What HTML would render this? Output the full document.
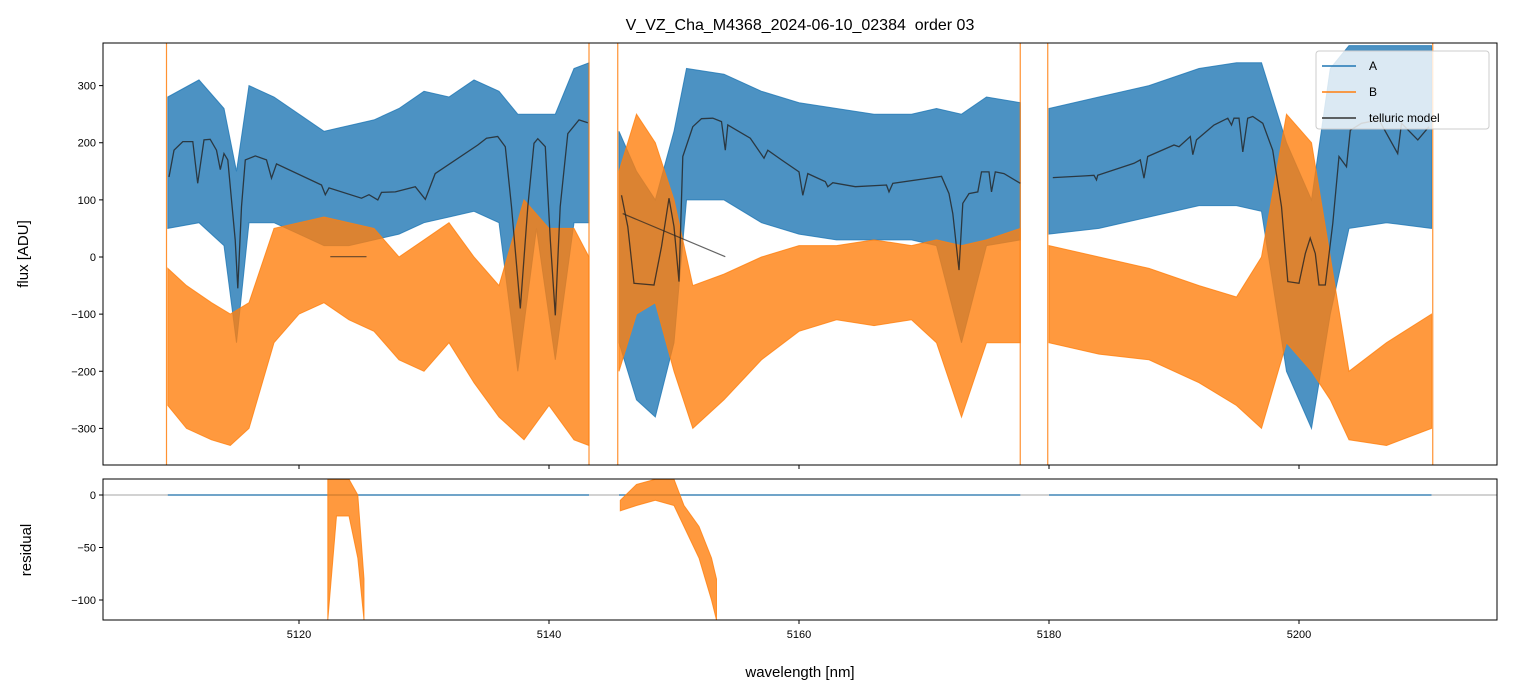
<!DOCTYPE html>
<html><head><meta charset="utf-8"><style>
body{margin:0;background:#fff;}
svg{display:block;font-family:"Liberation Sans","DejaVu Sans",sans-serif;}
</style></head><body>
<svg id="chart" width="1513" height="696" viewBox="0 0 1513 696">
<defs>
<clipPath id="cTop"><rect x="103" y="43" width="1394" height="422"/></clipPath>
<clipPath id="cBot"><rect x="103" y="479" width="1394" height="141"/></clipPath>
</defs>
<rect width="1513" height="696" fill="#fff"/>
<text x="800" y="30" text-anchor="middle" font-size="16" fill="#000">V_VZ_Cha_M4368_2024-06-10_02384&#160; order 03</text>
<g id="gtop" clip-path="url(#cTop)"></g>
<g id="gbot" clip-path="url(#cBot)"></g>
<g id="axes"></g>
<text x="28" y="254" transform="rotate(-90 28 254)" text-anchor="middle" font-size="15">flux [ADU]</text>
<text x="31" y="550" transform="rotate(-90 31 550)" text-anchor="middle" font-size="15">residual</text>
<text x="800" y="677" text-anchor="middle" font-size="15">wavelength [nm]</text>
<g>
<rect x="1316" y="51" width="173" height="78" rx="3" fill="#fff" fill-opacity="0.8" stroke="#ccc"/>
<line x1="1322" y1="66" x2="1356" y2="66" stroke="#1f77b4" stroke-width="1.5"/>
<text x="1369" y="70" font-size="12">A</text>
<line x1="1322" y1="92" x2="1356" y2="92" stroke="#ff7f0e" stroke-width="1.5"/>
<text x="1369" y="96" font-size="12">B</text>
<line x1="1322" y1="118" x2="1356" y2="118" stroke="#333" stroke-width="1.5"/>
<text x="1369" y="122" font-size="12">telluric model</text>
</g>
</svg>
<script>
// ---- data ----
const segA1Wl=[5109.5,5112,5114,5115,5116,5118,5120,5122,5124,5126,5128,5130,5132,5134,5136,5137.5,5139,5140.5,5142,5143.2];
const segA1Lo=[50,60,20,-150,60,60,40,20,20,30,40,60,70,80,60,-200,50,-180,60,60];
const segA1Hi=[280,310,260,150,300,280,250,220,230,240,260,290,280,310,290,250,250,250,330,340];
const segA2Wl=[5145.6,5147,5148.5,5150,5151,5154,5157,5160,5163,5166,5169,5171,5173,5175,5177.7];
const segA2Lo=[-150,-250,-280,-150,100,100,60,40,30,30,30,20,-150,20,30];
const segA2Hi=[220,150,100,220,330,320,290,270,260,250,250,260,250,280,270];
const segA3Wl=[5180,5184,5188,5192,5195,5197,5199,5201,5202.5,5204,5207,5210.6];
const segA3Lo=[40,50,70,90,90,80,-200,-300,-100,50,60,50];
const segA3Hi=[260,280,300,330,340,340,200,100,330,370,370,370];

const segB1Wl=[5109.5,5111,5113,5114.5,5116,5118,5120,5122,5124,5126,5128,5130,5132,5134,5136,5138,5140,5142,5143.2];
const segB1Lo=[-260,-300,-320,-330,-300,-150,-100,-80,-110,-130,-180,-200,-150,-220,-280,-320,-260,-320,-330];
const segB1Hi=[-20,-50,-80,-100,-80,50,60,70,60,50,0,30,60,0,-50,100,50,50,0];
const segB2Wl=[5145.6,5147,5148.5,5150,5151.5,5154,5157,5160,5163,5166,5169,5171,5173,5175,5177.7];
const segB2Lo=[-200,-100,-80,-200,-300,-250,-180,-130,-110,-120,-110,-150,-280,-150,-150];
const segB2Hi=[150,250,200,100,-50,-30,0,20,20,30,20,30,20,30,50];
const segB3Wl=[5180,5184,5188,5192,5195,5197,5199,5201,5202.5,5204,5207,5210.6];
const segB3Lo=[-150,-170,-180,-220,-260,-300,-150,-200,-250,-320,-330,-300];
const segB3Hi=[20,0,-20,-50,-70,0,250,200,0,-200,-150,-100];

const model1Wl=[5109.6,5110.0,5110.7,5111.5,5111.9,5112.4,5112.9,5113.4,5113.7,5114.0,5114.3,5114.9,5115.1,5115.4,5115.7,5116.5,5117.4,5117.8,5118.2,5121.8,5122.1,5122.4,5125.0,5125.6,5126.3,5126.6,5127.7,5129.3,5130.1,5130.9,5134.3,5135.0,5135.9,5136.5,5137.0,5137.7,5138.3,5138.8,5139.1,5139.7,5140.1,5140.5,5140.9,5141.5,5142.4,5143.1];
const model1Val=[140,187,202,202,129,205,206,187,153,181,170,30,-55,88,170,177,170,138,163,126,109,121,103,109,100,113,114,123,101,146,196,208,211,193,88,-90,88,199,207,193,30,-102,88,216,240,235];
const model2Wl=[5145.8,5146.3,5146.8,5148.4,5149.0,5149.6,5150.0,5150.4,5150.7,5151.5,5152.2,5153.1,5153.8,5154.1,5154.3,5156.1,5157.2,5157.5,5158.6,5160.0,5160.3,5160.7,5162.1,5162.3,5162.7,5164.5,5167.0,5167.2,5167.5,5171.4,5172.0,5172.3,5172.8,5173.1,5173.6,5174.3,5174.6,5175.2,5175.4,5175.7,5176.4,5177.7];
const model2Val=[108,53,-46,-49,18,103,53,-43,176,228,242,243,237,187,231,208,173,187,170,149,108,146,132,123,130,123,126,114,129,141,111,76,-23,94,111,114,149,149,114,149,146,129];
const model3Wl=[5180.3,5182.9,5183.6,5183.8,5183.9,5186.8,5187.3,5187.6,5187.9,5190.0,5190.4,5191.3,5191.5,5191.8,5193.2,5194.3,5194.6,5194.8,5195.2,5195.5,5195.9,5196.3,5197.1,5197.9,5198.6,5199.1,5200.0,5200.5,5200.9,5201.3,5201.6,5202.1,5202.7,5203.2,5203.8,5204.1,5205.0,5206.4,5207.9,5208.2,5209.5,5210.4];
const model3Val=[139,142,143,135,143,164,170,138,176,196,193,211,179,205,231,243,231,243,243,184,243,246,234,187,88,-43,-46,6,33,6,-49,-49,59,176,158,222,234,240,181,234,205,228];
const modelFlatWl=[5122.5,5125.4];
const modelFlatVal=[0.5,0.5];
const modelSlopeWl=[5145.9,5154.1];
const modelSlopeVal=[76,0.5];

const edgeWl=[5109.4,5143.2,5145.5,5177.7,5179.9,5210.7];

const resB1Wl=[5122.3,5123,5124,5124.7,5125.2];
const resB1Lo=[-119,-20,-20,-60,-119];
const resB1Hi=[15,15,15,0,-80];
const resB2Wl=[5145.7,5147,5148.5,5150,5150.8,5152,5153,5153.4];
const resB2Lo=[-15,-10,-5,-10,-30,-60,-100,-119];
const resB2Hi=[-5,10,15,15,-10,-30,-60,-80];
const resASegStart=[5109.5,5145.6,5180];
const resASegEnd=[5143.2,5177.7,5210.6];

const xTicks=[5120,5140,5160,5180,5200];
const yTicks=[300,200,100,0,-100,-200,-300];
const rTicks=[0,-50,-100];

// ---- axes ----
const X0=103,X1=1497,WL0=5104.32,PXNM=12.5;
const xs=w=>X0+(w-WL0)*PXNM;
const ys=v=>257-v*0.5713;
const rs=v=>495-v*1.05;
const NS='http://www.w3.org/2000/svg';
function mk(tag,attrs,parent){const e=document.createElementNS(NS,tag);for(const k in attrs)e.setAttribute(k,attrs[k]);parent.appendChild(e);return e;}
const gTop=document.getElementById('gtop'),gBot=document.getElementById('gbot'),gAxes=document.getElementById('axes');

function band(g,wl,lo,hi,sy,color,name){
  let pts=wl.map((w,i)=>xs(w).toFixed(1)+','+sy(hi[i]).toFixed(1));
  for(let i=wl.length-1;i>=0;i--)pts.push(xs(wl[i]).toFixed(1)+','+sy(lo[i]).toFixed(1));
  const p=mk('polygon',{points:pts.join(' '),fill:color,'fill-opacity':0.8,stroke:color,'stroke-width':1,'stroke-opacity':0.8},g);
  
  
}
function line(g,wl,val,sy,color,w,op,name){
  const p=mk('polyline',{points:wl.map((x,i)=>xs(x).toFixed(1)+','+sy(val[i]).toFixed(1)).join(' '),fill:'none',stroke:color,'stroke-width':w,'stroke-opacity':op},g);
  
  
}
band(gTop,segA1Wl,segA1Lo,segA1Hi,ys,'#1f77b4','series-a-seg1');
band(gTop,segA2Wl,segA2Lo,segA2Hi,ys,'#1f77b4','series-a-seg2');
band(gTop,segA3Wl,segA3Lo,segA3Hi,ys,'#1f77b4','series-a-seg3');
band(gTop,segB1Wl,segB1Lo,segB1Hi,ys,'#ff7f0e','series-b-seg1');
band(gTop,segB2Wl,segB2Lo,segB2Hi,ys,'#ff7f0e','series-b-seg2');
band(gTop,segB3Wl,segB3Lo,segB3Hi,ys,'#ff7f0e','series-b-seg3');
edgeWl.forEach((w,i)=>{
  const l=mk('line',{x1:xs(w),x2:xs(w),y1:43,y2:465,stroke:'#ff7f0e','stroke-width':1.2,'stroke-opacity':0.85},gTop);
  
  
});
line(gTop,model1Wl,model1Val,ys,'#222',1.3,0.8,'telluric-model-seg1');
line(gTop,model2Wl,model2Val,ys,'#222',1.3,0.8,'telluric-model-seg2');
line(gTop,model3Wl,model3Val,ys,'#222',1.3,0.8,'telluric-model-seg3');
line(gTop,modelFlatWl,modelFlatVal,ys,'#222',1.2,0.7,'telluric-model-flat');
line(gTop,modelSlopeWl,modelSlopeVal,ys,'#222',1.2,0.7,'telluric-model-slope');

// residual
const zl=mk('line',{x1:X0,x2:X1,y1:rs(0),y2:rs(0),stroke:'#888','stroke-width':0.8},gBot);


resASegStart.forEach((s,i)=>{
  line(gBot,[s,resASegEnd[i]],[0,0],rs,'#1f77b4',1.5,0.8,'residual-a');
});
band(gBot,resB1Wl,resB1Lo,resB1Hi,rs,'#ff7f0e','residual-b-seg1');
band(gBot,resB2Wl,resB2Lo,resB2Hi,rs,'#ff7f0e','residual-b-seg2');

// frames & ticks
[[43,465],[479,620]].forEach(([a,b],k)=>{
  const r=mk('rect',{x:X0,y:a,width:X1-X0,height:b-a,fill:'none',stroke:'#000','stroke-width':1},gAxes);
  
  
  xTicks.forEach(t=>{mk('line',{x1:xs(t),x2:xs(t),y1:b,y2:b+4,stroke:'#000'},gAxes);});
});
xTicks.forEach(t=>{
  const tx=mk('text',{x:xs(t),y:638,'text-anchor':'middle','font-size':11},gAxes);
  tx.textContent=t;
  
  
});
yTicks.forEach(t=>{
  mk('line',{x1:X0-4,x2:X0,y1:ys(t),y2:ys(t),stroke:'#000'},gAxes);
  const tx=mk('text',{x:X0-7,y:ys(t)+4,'text-anchor':'end','font-size':11},gAxes);
  tx.textContent=t<0?'\u2212'+(-t):t;
  
  
});
rTicks.forEach(t=>{
  mk('line',{x1:X0-4,x2:X0,y1:rs(t),y2:rs(t),stroke:'#000'},gAxes);
  const tx=mk('text',{x:X0-7,y:rs(t)+4,'text-anchor':'end','font-size':11},gAxes);
  tx.textContent=t<0?'\u2212'+(-t):t;
  
  
});
</script>
</body></html>
